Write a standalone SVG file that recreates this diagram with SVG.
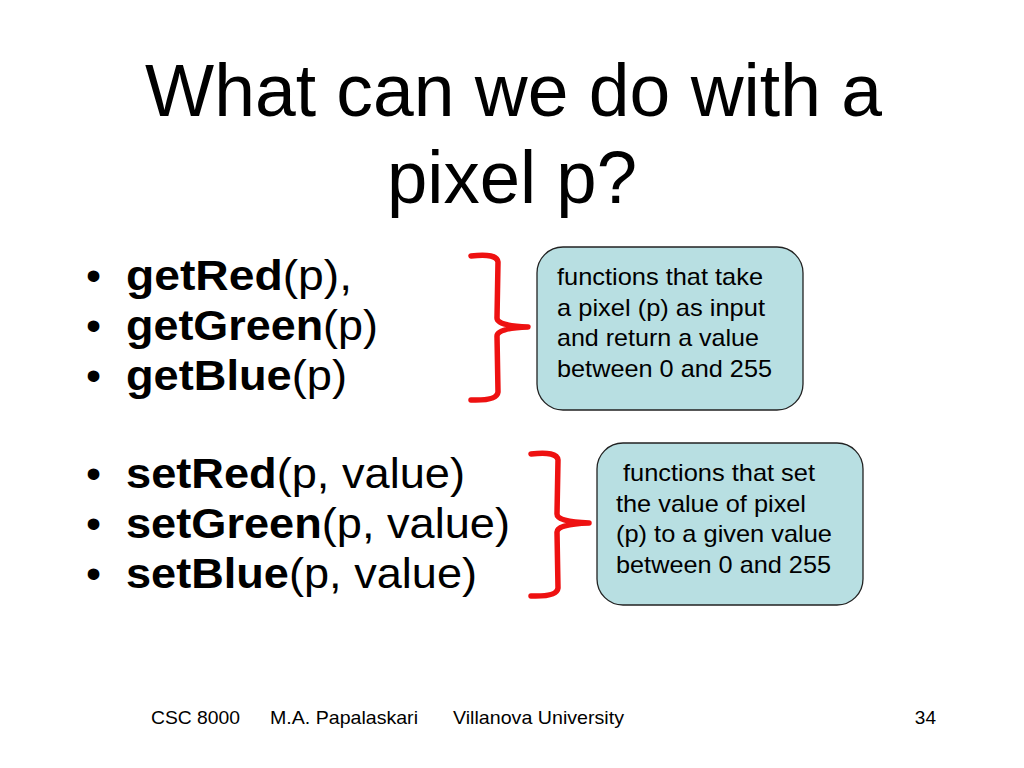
<svg xmlns="http://www.w3.org/2000/svg" width="1024" height="768" viewBox="0 0 1024 768">
<style>
text{font-family:"Liberation Sans",Arial,sans-serif;fill:#000}
.title{font-size:75px}
.b{font-size:43px}
.bt{font-weight:bold}
.box{fill:#b8dfe2;stroke:#222;stroke-width:1.3}
.bt2{font-size:24px}
.br{fill:none;stroke:#ee1111;stroke-width:5.5;stroke-linecap:round;stroke-linejoin:round}
.ft{font-size:19px}
</style>
<rect width="1024" height="768" fill="#fff"/>
<g id="title">
<text class="title" x="145" y="116" textLength="737" lengthAdjust="spacingAndGlyphs">What can we do with a</text>
<text class="title" x="387" y="203" textLength="250" lengthAdjust="spacingAndGlyphs">pixel p?</text>
</g>
<g id="bullets">
<text class="b" x="86" y="290">•</text><text class="b" x="126" y="290" textLength="226" lengthAdjust="spacingAndGlyphs"><tspan class="bt">getRed</tspan>(p),</text>
<text class="b" x="86" y="340">•</text><text class="b" x="126" y="340" textLength="252" lengthAdjust="spacingAndGlyphs"><tspan class="bt">getGreen</tspan>(p)</text>
<text class="b" x="86" y="390">•</text><text class="b" x="126" y="390" textLength="221" lengthAdjust="spacingAndGlyphs"><tspan class="bt">getBlue</tspan>(p)</text>
<text class="b" x="86" y="488">•</text><text class="b" x="126" y="488" textLength="339" lengthAdjust="spacingAndGlyphs"><tspan class="bt">setRed</tspan>(p, value)</text>
<text class="b" x="86" y="538">•</text><text class="b" x="126" y="538" textLength="384" lengthAdjust="spacingAndGlyphs"><tspan class="bt">setGreen</tspan>(p, value)</text>
<text class="b" x="86" y="588">•</text><text class="b" x="126" y="588" textLength="351" lengthAdjust="spacingAndGlyphs"><tspan class="bt">setBlue</tspan>(p, value)</text>
</g>
<g id="connectors">
<path class="br" d="M471,256 Q497,253 498,262 L497,318 Q497,326 528,327 Q497,328 497,336 L498,392 Q497,401 471,400"/>
<path class="br" d="M531,454 Q557,451 558,460 L557,514 Q557,522 589,523 Q557,524 557,532 L558,588 Q557,597 531,596"/>
</g>
<g id="box1">
<rect class="box" x="537" y="247" width="266" height="163" rx="26"/>
<text class="bt2" x="557" y="285" textLength="206" lengthAdjust="spacingAndGlyphs">functions that take</text>
<text class="bt2" x="557" y="316" textLength="208" lengthAdjust="spacingAndGlyphs">a pixel (p) as input</text>
<text class="bt2" x="557" y="346" textLength="202" lengthAdjust="spacingAndGlyphs">and return a value</text>
<text class="bt2" x="557" y="377" textLength="215" lengthAdjust="spacingAndGlyphs">between 0 and 255</text>
</g>
<g id="box2">
<rect class="box" x="597" y="443" width="266" height="162" rx="26"/>
<text class="bt2" x="623" y="481" textLength="192" lengthAdjust="spacingAndGlyphs">functions that set</text>
<text class="bt2" x="616" y="512" textLength="190" lengthAdjust="spacingAndGlyphs">the value of pixel</text>
<text class="bt2" x="616" y="542" textLength="216" lengthAdjust="spacingAndGlyphs">(p) to a given value</text>
<text class="bt2" x="616" y="573" textLength="215" lengthAdjust="spacingAndGlyphs">between 0 and 255</text>
</g>
<g id="footer">
<text class="ft" x="151" y="724" textLength="89" lengthAdjust="spacingAndGlyphs">CSC 8000</text>
<text class="ft" x="270" y="724" textLength="148" lengthAdjust="spacingAndGlyphs">M.A. Papalaskari</text>
<text class="ft" x="453" y="724" textLength="171" lengthAdjust="spacingAndGlyphs">Villanova University</text>
<text class="ft" x="936" y="724" text-anchor="end">34</text>
</g>
</svg>
